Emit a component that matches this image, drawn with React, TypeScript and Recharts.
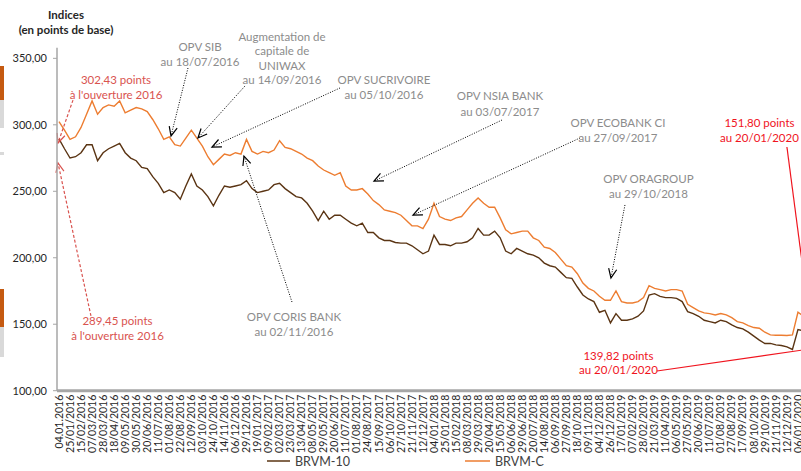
import React from 'react';
import { LineChart, Line, XAxis, YAxis, ReferenceLine, ReferenceDot, Legend } from 'recharts';

const tickLabels = [
  '04.01.2016', '25/01/2016', '15/02/2016', '07/03/2016', '28/03/2016', '18/04/2016', '09/05/2016', '30/05/2016',
  '20/06/2016', '11/07/2016', '01/08/2016', '22/08/2016', '12/09/2016', '03/10/2016', '24/10/2016', '14/11/2016',
  '06/12/2016', '29/12/2016', '19/01/2017', '09/02/2017', '02/03/2017', '23/03/2017', '13/04/2017', '08/05/2017',
  '29/05/2017', '20/06/2017', '11/07/2017', '01/08/2017', '24/08/2017', '15/09/2017', '06/10/2017', '27/10/2017',
  '21/11/2017', '12/12/2017', '04/01/2018', '25/01/2018', '15/02/2018', '08/03/2018', '29/03/2018', '20/04/2018',
  '15/05/2018', '06/06/2018', '29/06/2018', '20/07/2018', '14/08/2018', '06/09/2018', '27/09/2018', '18/10/2018',
  '09/11/2018', '04/12/2018', '26/12/2018', '17/01/2019', '07/02/2019', '28/02/2019', '21/03/2019', '11/04/2019',
  '06/05/2019', '27/05/2019', '20/06/2019', '11/07/2019', '01/08/2019', '27/08/2019', '17/09/2019', '08/10/2019',
  '29/10/2019', '21/11/2019', '12/12/2019', '06/01/2020',
];

const brvmC = [
  302.43, 296, 289, 291, 298, 308, 318, 308, 313, 315,
  314, 318, 309, 311, 313, 312, 310, 304, 297, 289,
  291, 285, 284, 290, 296, 290, 284, 276, 270, 274,
  278, 277, 279, 278, 289, 280, 278, 280, 279, 281,
  288, 283, 282, 280, 278, 275, 273, 269, 266, 264,
  262, 264, 254, 251, 251, 252, 248, 243, 240, 236,
  235, 234, 232, 228, 224, 224, 222, 229, 241, 231,
  229, 228, 230, 231, 236, 241, 245, 241, 238, 238,
  230, 221, 218, 219, 220, 220, 215, 213, 208, 207,
  204, 199, 194, 193, 188, 181, 177, 175, 171, 168,
  168, 175, 167, 166, 166, 167, 170, 179, 177, 176,
  175, 176, 176, 175, 165, 162.5, 160, 158.5, 158, 157,
  158, 157, 155, 152, 151, 149, 147.5, 147, 144, 142,
  141.7, 141.7, 141.5, 142, 159, 156, 151.8,
];

const brvm10 = [
  289.45, 282, 275, 276, 279, 285, 285, 273, 279, 282,
  284, 286, 279, 275, 273, 268, 267, 261, 256, 249,
  251, 249, 244, 254, 263, 254, 251, 246, 239, 247,
  254, 253, 254, 255, 258, 252, 249, 250, 251, 255,
  256, 252, 249, 246, 245, 241, 235, 228, 235, 229,
  232, 232, 229, 226, 224, 226, 219, 219, 215, 213,
  213, 211.5, 211, 211, 209, 206, 203, 205, 217, 210,
  210, 209, 211, 211, 212, 215, 222, 217, 217, 220,
  215, 205, 203, 207, 205, 203, 202, 200, 196, 194,
  193, 189, 185, 184.5, 178, 172, 169, 167, 159, 160.5,
  151, 158, 153, 153, 154, 156, 160, 172, 173, 171,
  170, 170, 169.5, 167, 159.5, 158, 156, 153, 152, 151,
  153, 152, 149.5, 147.5, 146.5, 144, 141, 138, 135.5, 135.6,
  134.5, 134, 133, 131, 146, 145, 139.82,
];

const yTicks = [100, 150, 200, 250, 300, 350];
const seriesNames = ['BRVM-10', 'BRVM-C'];

const data = brvmC.map((c, i) => ({ i, c, b: brvm10[i] }));
const tickIdx = tickLabels.map((_, k) => k * 2);

const FONT = "Lato, 'Open Sans', sans-serif";
const C_ORANGE = '#ED7D31';
const C_BROWN = '#5A3413';
const GRAY_TXT = '#8C8C8C';
const RED_SOFT = '#D9534F';
const RED = '#F0141E';

// annotation text blocks (data coordinates: index, value)
const notes = [
  { lines: ['302,43 points', "à l'ouverture 2016"], i: 10.34, v: 333.7, color: RED_SOFT, lh: 15 },
  { lines: ['289,45 points', "à l'ouverture 2016"], i: 10.61, v: 152.4, color: RED_SOFT, lh: 15 },
  { lines: ['OPV SIB', 'au 18/07/2016'], i: 25.57, v: 358.5, color: GRAY_TXT, lh: 15 },
  { lines: ['Augmentation de', 'capitale de', 'UNIWAX', 'au 14/09/2016'], i: 40.44, v: 366.0, color: GRAY_TXT, lh: 14.4 },
  { lines: ['OPV SUCRIVOIRE', 'au 05/10/2016'], i: 58.93, v: 333.7, color: GRAY_TXT, lh: 15 },
  { lines: ['OPV CORIS BANK', 'au 02/11/2016'], i: 42.61, v: 155.4, color: GRAY_TXT, lh: 15 },
  { lines: ['OPV NSIA BANK', 'au 03/07/2017'], i: 79.96, v: 321.6, color: GRAY_TXT, lh: 16 },
  { lines: ['OPV ECOBANK CI', 'au 27/09/2017'], i: 101.36, v: 301.3, color: GRAY_TXT, lh: 14.5 },
  { lines: ['OPV ORAGROUP', 'au 29/10/2018'], i: 106.89, v: 259.2, color: GRAY_TXT, lh: 15 },
  { lines: ['151,80 points', 'au 20/01/2020'], i: 127.02, v: 301.3, color: RED, lh: 15 },
  { lines: ['139,82 points', 'au 20/01/2020'], i: 101.45, v: 126.1, color: RED, lh: 14 },
];

// arrows: from -> to (data coordinates)
const arrows = [
  { from: [2.54, 318.6], to: [-0.18, 286.3], color: RED_SOFT, dash: '3 2', head: true },
  { from: [5.8, 156.2], to: [-0.18, 271.3], color: RED_SOFT, dash: '3 2', head: true },
  { from: [23.39, 342.7], to: [20.31, 291.6], color: '#000', dash: '1 1.5', head: true },
  { from: [33.73, 329.2], to: [25.2, 290.1], color: '#000', dash: '1 1.5', head: true },
  { from: [50.95, 327.7], to: [27.74, 283.3], color: '#000', dash: '1 1.5', head: true },
  { from: [42.25, 166.7], to: [33.54, 276.5], color: '#000', dash: '1 1.5', head: true },
  { from: [80.33, 303.6], to: [57.12, 257.7], color: '#000', dash: '1 1.5', head: true },
  { from: [94.47, 290.1], to: [64.19, 232.1], color: '#000', dash: '1 1.5', head: true },
  { from: [102.63, 239.7], to: [100.09, 184.8], color: '#000', dash: '1 1.5', head: true },
  { from: [132.0, 283.3], to: [136.17, 151.8], color: RED, dash: undefined, head: false },
  { from: [108.43, 114.8], to: [136.17, 131.4], color: RED, dash: undefined, head: false },
];

const makeArrowShape = (color: string, dash: string | undefined, head: boolean) => (p: any) => {
  const { x1, y1, x2, y2 } = p;
  if ([x1, y1, x2, y2].some((n) => typeof n !== 'number' || isNaN(n))) return <g />;
  const ang = Math.atan2(y2 - y1, x2 - x1);
  const L = 10;
  const a = 0.42;
  const hx1 = x2 - L * Math.cos(ang - a);
  const hy1 = y2 - L * Math.sin(ang - a);
  const hx2 = x2 - L * Math.cos(ang + a);
  const hy2 = y2 - L * Math.sin(ang + a);
  const isBlack = color === '#000';
  return (
    <g>
      <line x1={x1} y1={y1} x2={x2} y2={y2} stroke={color} strokeWidth={isBlack ? 1 : 1.2} strokeDasharray={dash} />
      {head && (
        <polyline
          points={`${hx1},${hy1} ${x2},${y2} ${hx2},${hy2}`}
          fill="none"
          stroke={color}
          strokeWidth={1.2}
        />
      )}
    </g>
  );
};

const makeTextShape = (lines: string[], color: string, lh: number) => (p: any) => (
  <text x={p.cx} y={p.cy} textAnchor="middle" fill={color} fontSize={11.5} fontFamily={FONT}>
    {lines.map((l, k) => (
      <tspan key={k} x={p.cx} y={p.cy + k * lh} dy="0.35em">
        {l}
      </tspan>
    ))}
  </text>
);

const XTick = (props: any) => {
  const { x, y, payload } = props;
  const label = tickLabels[Math.round(payload.value / 2)];
  return (
    <text
      x={x}
      y={y}
      transform={`rotate(-90 ${x} ${y})`}
      textAnchor="end"
      dy="0.35em"
      fontSize={10.5}
      fill="#262626"
      fontFamily={FONT}
    >
      {label}
    </text>
  );
};

const LegendContent = () => (
  <svg width={801} height={20}>
    <line x1={267} y1={9} x2={290} y2={9} stroke={C_BROWN} strokeWidth={1.5} />
    <text x={295} y={10} dy="0.35em" fontSize={12.5} fill="#404040" fontFamily={FONT}>
      {seriesNames[0]}
    </text>
    <line x1={465} y1={9} x2={490} y2={9} stroke={C_ORANGE} strokeWidth={1.5} />
    <text x={495} y={10} dy="0.35em" fontSize={12.5} fill="#404040" fontFamily={FONT}>
      {seriesNames[1]}
    </text>
  </svg>
);

export default function App() {
  return (
    <div
      style={{
        position: 'absolute',
        left: 0,
        top: 0,
        width: 801,
        height: 471,
        overflow: 'hidden',
        background: '#fff',
        fontFamily: FONT,
      }}
    >
      {/* slide decorations on the left edge */}
      <div style={{ position: 'absolute', left: 0, top: 66, width: 4, height: 34, background: '#C55A11' }} />
      <div style={{ position: 'absolute', left: 0, top: 100, width: 4, height: 28, background: '#D9D9D9' }} />
      <div style={{ position: 'absolute', left: 0, top: 152, width: 4, height: 3, background: '#D9D9D9' }} />
      <div style={{ position: 'absolute', left: 0, top: 289, width: 4, height: 38, background: '#C55A11' }} />
      <div style={{ position: 'absolute', left: 0, top: 327, width: 4, height: 30, background: '#D9D9D9' }} />

      <div
        style={{
          position: 'absolute',
          left: 0,
          top: 7,
          width: 132,
          textAlign: 'center',
          fontWeight: 700,
          fontSize: 11.5,
          lineHeight: '15px',
          color: '#262626',
        }}
      >
        Indices
        <br />
        (en points de base)
      </div>

      <div style={{ position: 'absolute', left: 0, top: 0 }}>
        <LineChart
          width={814.5}
          height={471}
          data={data}
          margin={{ top: 47.7, right: 0, bottom: 18.3, left: 0 }}
        >
          <XAxis
            type="number"
            dataKey="i"
            domain={[-0.36, 137]}
            allowDataOverflow
            ticks={tickIdx}
            interval={0}
            tick={<XTick />}
            tickLine={false}
            tickSize={0}
            tickMargin={4}
            height={62}
            axisLine={{ stroke: '#A6A6A6', strokeWidth: 3 }}
          />
          <YAxis
            type="number"
            domain={[100, 358]}
            allowDataOverflow
            ticks={yTicks}
            interval={0}
            width={57}
            tickSize={4}
            tickMargin={6}
            tickFormatter={(v: number) => v.toFixed(2).replace('.', ',')}
            tick={{ fontSize: 11, fill: '#262626', fontFamily: FONT }}
            axisLine={{ stroke: '#A6A6A6', strokeWidth: 1.5 }}
            tickLine={{ stroke: '#A6A6A6' }}
          />
          <Line
            type="linear"
            dataKey="c"
            name={seriesNames[1]}
            stroke={C_ORANGE}
            strokeWidth={1.4}
            dot={false}
            isAnimationActive={false}
          />
          <Line
            type="linear"
            dataKey="b"
            name={seriesNames[0]}
            stroke={C_BROWN}
            strokeWidth={1.4}
            dot={false}
            isAnimationActive={false}
          />
          {arrows.map((a, k) => (
            <ReferenceLine
              key={`a${k}`}
              segment={[
                { x: a.from[0], y: a.from[1] },
                { x: a.to[0], y: a.to[1] },
              ]}
              ifOverflow="visible"
              stroke={a.color}
              shape={makeArrowShape(a.color, a.dash, a.head)}
            />
          ))}
          {notes.map((n, k) => (
            <ReferenceDot
              key={`n${k}`}
              x={n.i}
              y={n.v}
              r={1}
              ifOverflow="visible"
              shape={makeTextShape(n.lines, n.color, n.lh)}
            />
          ))}
          <Legend
            layout="horizontal"
            verticalAlign="middle"
            align="center"
            wrapperStyle={{ top: 452, left: 0, width: 801, height: 20 }}
            content={<LegendContent />}
          />
        </LineChart>
      </div>
    </div>
  );
}
